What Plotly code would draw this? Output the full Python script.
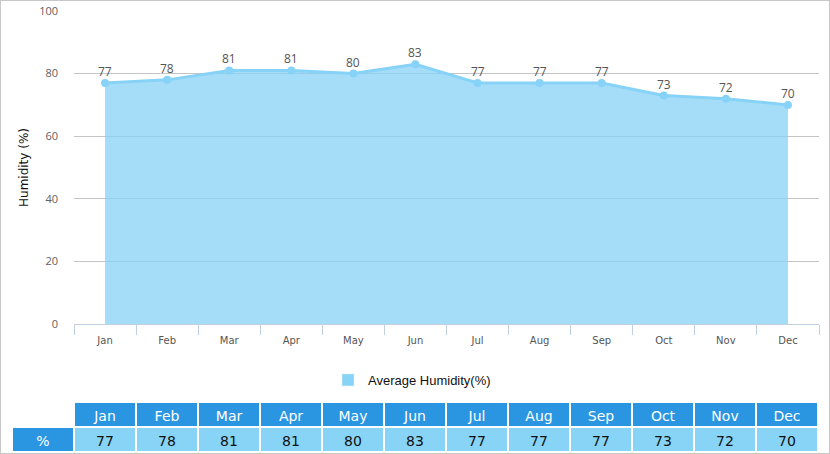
import plotly.graph_objects as go

months = ["Jan", "Feb", "Mar", "Apr", "May", "Jun",
          "Jul", "Aug", "Sep", "Oct", "Nov", "Dec"]
humidity = [77, 78, 81, 81, 80, 83, 77, 77, 77, 73, 72, 70]
y_ticks = [0, 20, 40, 60, 80, 100]
series_name = "Average Humidity(%)"
row_label = "%"

W, H = 830, 454
LINE = "#87d2f7"
HEAD = "#2a96e2"
CELL = "#88d4f7"

fig = go.Figure()

# area line
fig.add_trace(go.Scatter(
    x=months, y=humidity,
    mode="lines+markers",
    fill="tozeroy",
    fillcolor="rgba(135,210,247,0.75)",
    line=dict(color=LINE, width=3),
    marker=dict(color=LINE, size=8),
    showlegend=False,
    hoverinfo="skip",
))

# value labels just above each point
for m, v in zip(months, humidity):
    fig.add_annotation(
        x=m, y=v, text=str(v), showarrow=False,
        yanchor="bottom", yshift=1,
        font=dict(family="Open Sans", size=12, color="#555555"),
    )

# legend entry only (square swatch)
fig.add_trace(go.Bar(
    x=[None], y=[None], name=series_name,
    marker=dict(color=CELL), showlegend=True,
))

# data table below the chart
fig.add_trace(go.Table(
    domain=dict(x=[12 / W, 818 / W], y=[0, 1 - 402 / H]),
    columnwidth=[1] * 13,
    header=dict(
        values=[""] + months,
        fill=dict(color=["#ffffff"] + [HEAD] * 12),
        line=dict(color="#ffffff", width=2),
        font=dict(family="DejaVu Sans", size=14, color="#ffffff"),
        align="center",
        height=25,
    ),
    cells=dict(
        values=[[row_label]] + [[v] for v in humidity],
        fill=dict(color=[HEAD] + [CELL] * 12),
        line=dict(color="#ffffff", width=2),
        font=dict(family="DejaVu Sans", size=14,
                  color=["#ffffff"] + ["#111111"] * 12),
        align="center",
        height=25,
    ),
))

fig.update_layout(
    width=W, height=H,
    margin=dict(l=0, r=0, t=0, b=0, pad=0, autoexpand=False),
    paper_bgcolor="white",
    plot_bgcolor="white",
    showlegend=True,
    legend=dict(
        x=412 / W, y=1 - 380 / H, xanchor="center", yanchor="middle",
        orientation="h",
        font=dict(family="Liberation Sans", size=13, color="#111111"),
    ),
    xaxis=dict(
        domain=[74 / W, 819 / W],
        type="category",
        range=[-0.5, 11.5],
        automargin=False,
        showgrid=False,
        showline=True, linecolor="#c0d0e0", linewidth=1,
        ticks="outside", tickson="boundaries", ticklen=10,
        tickcolor="#c0d0e0",
        ticklabelstandoff=7,
        tickfont=dict(family="DejaVu Sans", size=10, color="#555555"),
        fixedrange=True,
    ),
    yaxis=dict(
        domain=[1 - 324 / H, 1 - 11 / H],
        range=[0, 100],
        tickvals=y_ticks,
        automargin=False,
        showgrid=True, gridcolor="#c4c4c4", gridwidth=1,
        zeroline=False,
        showline=False,
        ticks="",
        ticklabelstandoff=15,
        tickfont=dict(family="Open Sans", size=11, color="#606060"),
        title=dict(text="Humidity (%)", standoff=7,
                   font=dict(family="DejaVu Sans", size=12, color="#111111")),
        fixedrange=True,
    ),
    shapes=[dict(
        type="rect", xref="paper", yref="paper",
        x0=0, x1=1, y0=0, y1=1,
        line=dict(color="#c8c8c8", width=2),
        fillcolor="rgba(0,0,0,0)",
    )],
)

# drop the default page margin so the figure sits at the window origin
page_fix = ("document.body.style.margin='0';"
            "document.body.style.padding='0';"
            "document.body.style.overflow='hidden';")

fig.write_html("out.html", post_script=page_fix,
               config={"displayModeBar": False})
